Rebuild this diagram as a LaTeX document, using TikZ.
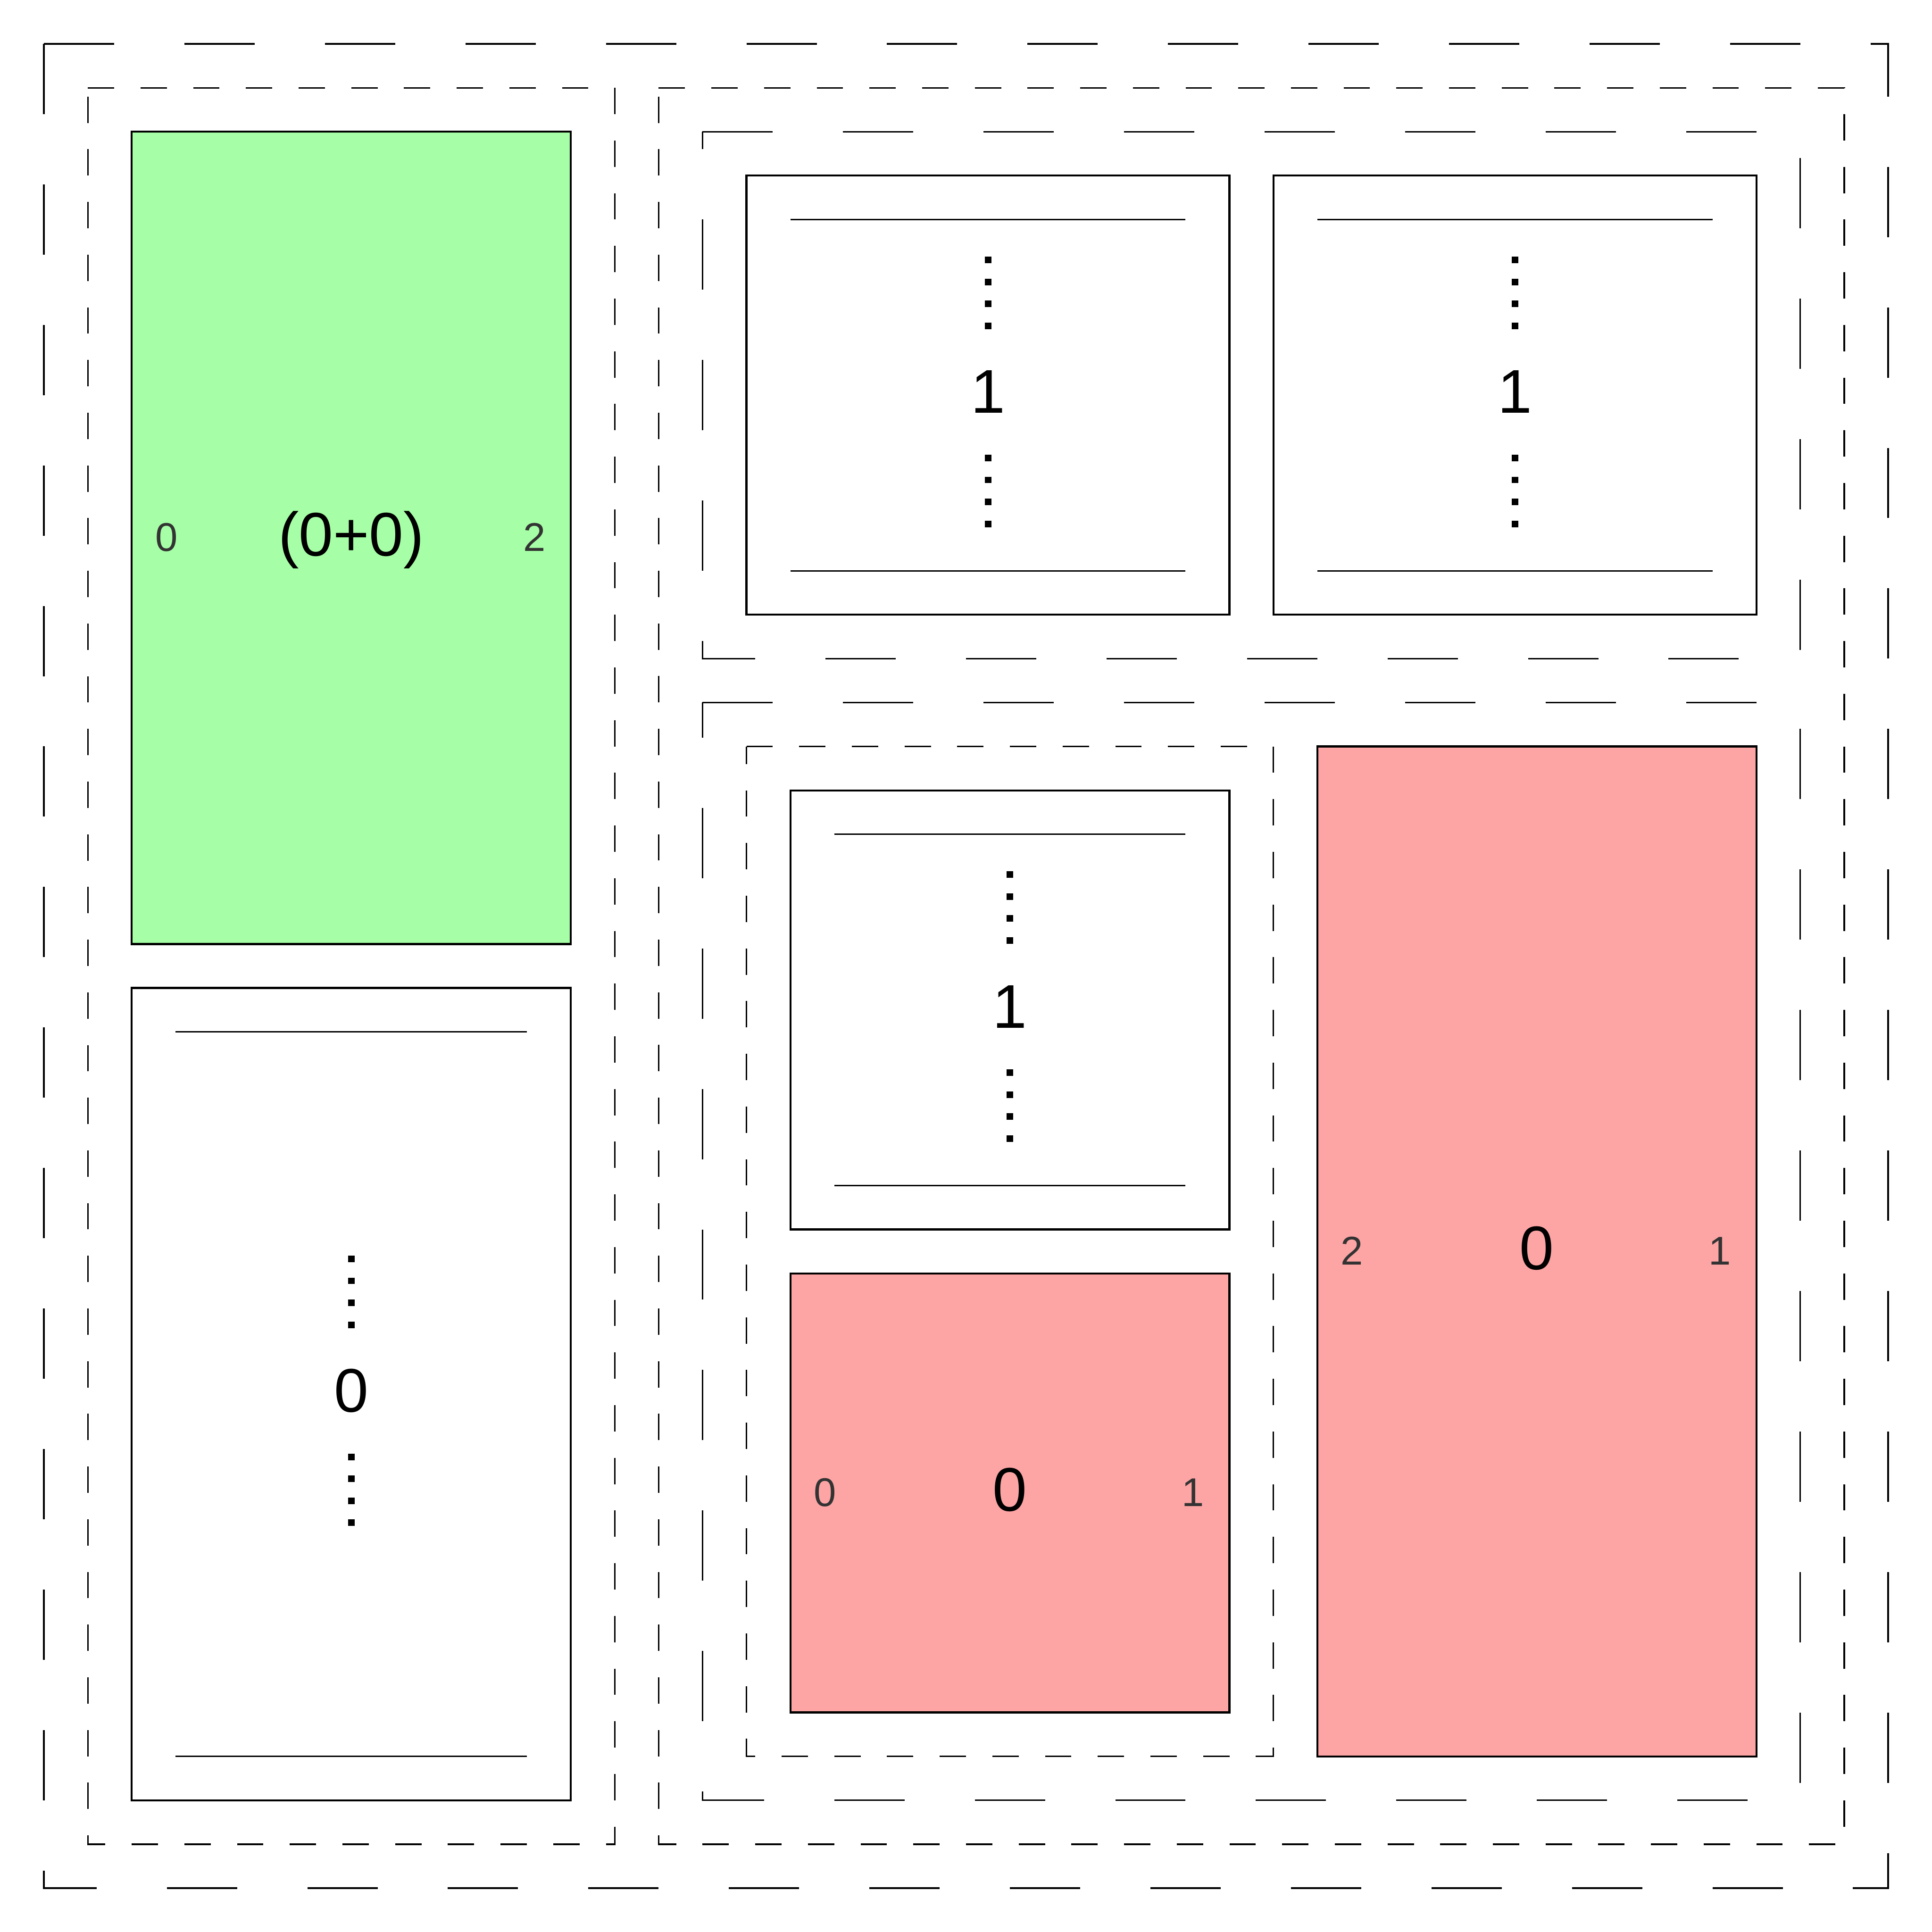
\documentclass[tikz,border=0pt]{standalone}
\usepackage{fontspec}
\setmainfont{Liberation Sans}
\usetikzlibrary{calc}
\definecolor{leafgreen}{HTML}{A6FFA6}
\definecolor{leafred}{HTML}{FDA4A4}
\definecolor{portgray}{HTML}{333333}
\tikzset{
  longdash/.style={line width=1pt, dash pattern=on 1.6cm off 1.6cm},
  shortdash/.style={line width=1pt, dash pattern=on 0.6cm off 0.6cm},
  leafbox/.style={draw, rectangle, line width=1.3pt, inner sep=0pt, outer sep=0pt},
  innerrule/.style={line width=1pt},
  vdots/.style={line width=0.15cm, dash pattern=on 0.15cm off 0.35cm},
  mainlbl/.style={anchor=base, inner sep=0pt, text=black, font=\fontsize{40}{48}\selectfont},
  portlbl/.style={anchor=base, inner sep=0pt, text=portgray, font=\fontsize{26}{31}\selectfont},
}
\begin{document}
\begin{tikzpicture}[x=1cm, y=-1cm]
\useasboundingbox[fill=white] (0,0) rectangle (44,44);

% dashed containers (start at top-left corner, go right)
\draw[longdash]  (1,1) -- (43,1) -- (43,43) -- (1,43) -- cycle;
\draw[shortdash] (2,2) -- (14,2) -- (14,42) -- (2,42) -- cycle;
\draw[shortdash] (15,2) -- (42,2) -- (42,42) -- (15,42) -- cycle;
\draw[longdash]  (16,3) -- (41,3) -- (41,15) -- (16,15) -- cycle;
\draw[longdash]  (16,16) -- (41,16) -- (41,41) -- (16,41) -- cycle;
\draw[shortdash] (17,17) -- (29,17) -- (29,40) -- (17,40) -- cycle;

% leaf boxes
\node[leafbox, fill=leafgreen, minimum width=10cm, minimum height=18.5cm] (g)  at (8,12.25) {};
\node[leafbox, fill=white,     minimum width=10cm, minimum height=18.5cm] (bl) at (8,31.75) {};
\node[leafbox, fill=white,     minimum width=11cm, minimum height=10cm]   (t1) at (22.5,9) {};
\node[leafbox, fill=white,     minimum width=11cm, minimum height=10cm]   (t2) at (34.5,9) {};
\node[leafbox, fill=white,     minimum width=10cm, minimum height=10cm]   (w3) at (23,23) {};
\node[leafbox, fill=leafred,   minimum width=10cm, minimum height=10cm]   (ps) at (23,34) {};
\node[leafbox, fill=leafred,   minimum width=10cm, minimum height=23cm]   (pl) at (35,28.5) {};

% white stacked boxes: rules, dots, labels
\foreach \b/\t in {bl/0, t1/1, t2/1, w3/1}{
  \draw[innerrule] ($(\b.north west)+(1,1)$) -- ($(\b.north east)+(-1,1)$);
  \draw[innerrule] ($(\b.south west)+(1,-1)$) -- ($(\b.south east)+(-1,-1)$);
  \draw[vdots] ($(\b.center)+(0,-3.155)$) -- ($(\b.center)+(0,-1.505)$);
  \draw[vdots] ($(\b.center)+(0,1.355)$) -- ($(\b.center)+(0,3.005)$);
  \node[mainlbl] (\b lbl) at ($(\b.center)+(0,0.41)$) {\t};
}

% coloured leaf labels
\node[mainlbl] (gl) at ($(g.center)+(0,0.41)$) {(0+0)};
\node[mainlbl] (psl) at ($(ps.center)+(0,0.41)$) {0};
\node[mainlbl] (pll) at ($(pl.center)+(0,0.41)$) {0};

% port labels
\node[portlbl] (gp0) at ($(g.west)+(0.79,0.3)$) {0};
\node[portlbl] (gp2) at ($(g.east)+(-0.83,0.3)$) {2};
\node[portlbl] (psp0) at ($(ps.west)+(0.79,0.3)$) {0};
\node[portlbl] (psp1) at ($(ps.east)+(-0.83,0.3)$) {1};
\node[portlbl] (plp2) at ($(pl.west)+(0.79,0.3)$) {2};
\node[portlbl] (plp1) at ($(pl.east)+(-0.83,0.3)$) {1};
\end{tikzpicture}
\end{document}
